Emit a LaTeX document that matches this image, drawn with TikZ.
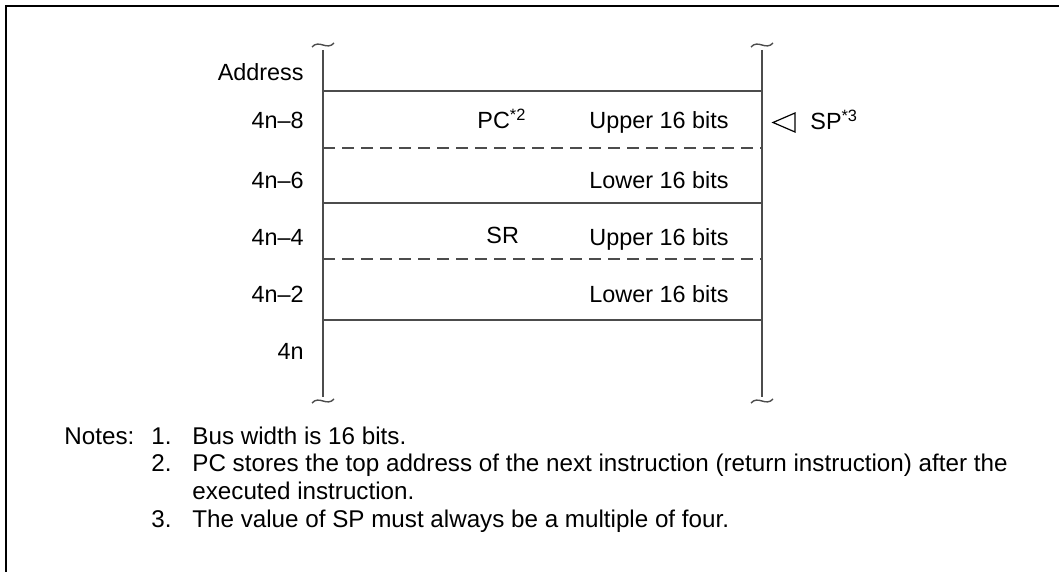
\documentclass[tikz,border=0pt]{standalone}
\usepackage{fontspec}
\setmainfont{Liberation Sans}
\tikzset{%
    addr/.style={anchor=base east, inner sep=0pt},
    cell/.style={anchor=base west, inner sep=0pt},
    note/.style={anchor=base west, inner sep=0pt, font=\fontsize{12.1}{14}\selectfont},
    rule/.style={line width=1pt, draw=black!70},
    squig/.style={line width=0.7pt, draw=black!70}
}

\begin{document}
\begin{tikzpicture}[x=0.5pt,y=-0.5pt,font=\fontsize{11.7}{14}\selectfont]
    \useasboundingbox (0,0) rectangle (1059,572);
    \draw[line width=1pt] (1059,6) -- (6,6) -- (6,572);
    % stack edges
    \coordinate (lt) at (323,50);
    \coordinate (lb) at (323,397);
    \coordinate (rt) at (762,50);
    \coordinate (rb) at (762,397);
    \draw[rule] (lt) -- (lb);
    \draw[rule] (rt) -- (rb);
    \foreach \x in {323,762}
    {
    \draw[squig] (\x-11,47) .. controls (\x-4,39) and (\x+4,51) .. (\x+11,43);
    \draw[squig] (\x-11,403) .. controls (\x-4,395) and (\x+4,407) .. (\x+11,399);
    }
    \foreach \y in {91,203,320}
    {
    \draw[rule] (323,\y) -- (762,\y);
    }
    \foreach \y in {148,259}
    {
    \draw[rule, dash pattern=on 6pt off 3.5pt] (323,\y) -- (762,\y);
    }
    % addresses
    \node[addr] (address) at (304,81) {Address};
    \node[addr] (a8) at (304,129) {4n\textendash8};
    \node[addr] (a6) at (304,189) {4n\textendash6};
    \node[addr] (a4) at (304,245) {4n\textendash4};
    \node[addr] (a2) at (304,302) {4n\textendash2};
    \node[addr] (a0) at (304,359) {4n};
    % contents
    \node[cell] (pc) at (477,129) {PC\textsuperscript{*2}};
    \node[cell] (sr) at (486,243) {SR};
    \node[cell] (pcup) at (589,129) {Upper 16 bits};
    \node[cell] (pclo) at (589,189) {Lower 16 bits};
    \node[cell] (srup) at (589,245) {Upper 16 bits};
    \node[cell] (srlo) at (589,302) {Lower 16 bits};
    % stack pointer
    \node[cell] (sp) at (810,130) {SP\textsuperscript{*3}};
    \draw[line width=0.6pt] (795,113) -- (773,122.5) -- (795,132) -- cycle;
    % notes
    \node[note] (notes) at (64,444) {Notes:};
    \node[note] (n1) at (151,444) {1.};
    \node[note] (n2) at (151,471) {2.};
    \node[note] (n3) at (151,527) {3.};
    \node[note] (t1) at (192,444) {Bus width is 16 bits.};
    \node[note] (t2) at (192,471) {PC stores the top address of the next instruction (return instruction) after the};
    \node[note] (t2b) at (192,499) {executed instruction.};
    \node[note] (t3) at (192,527) {The value of SP must always be a multiple of four.};
\end{tikzpicture}
\end{document}
